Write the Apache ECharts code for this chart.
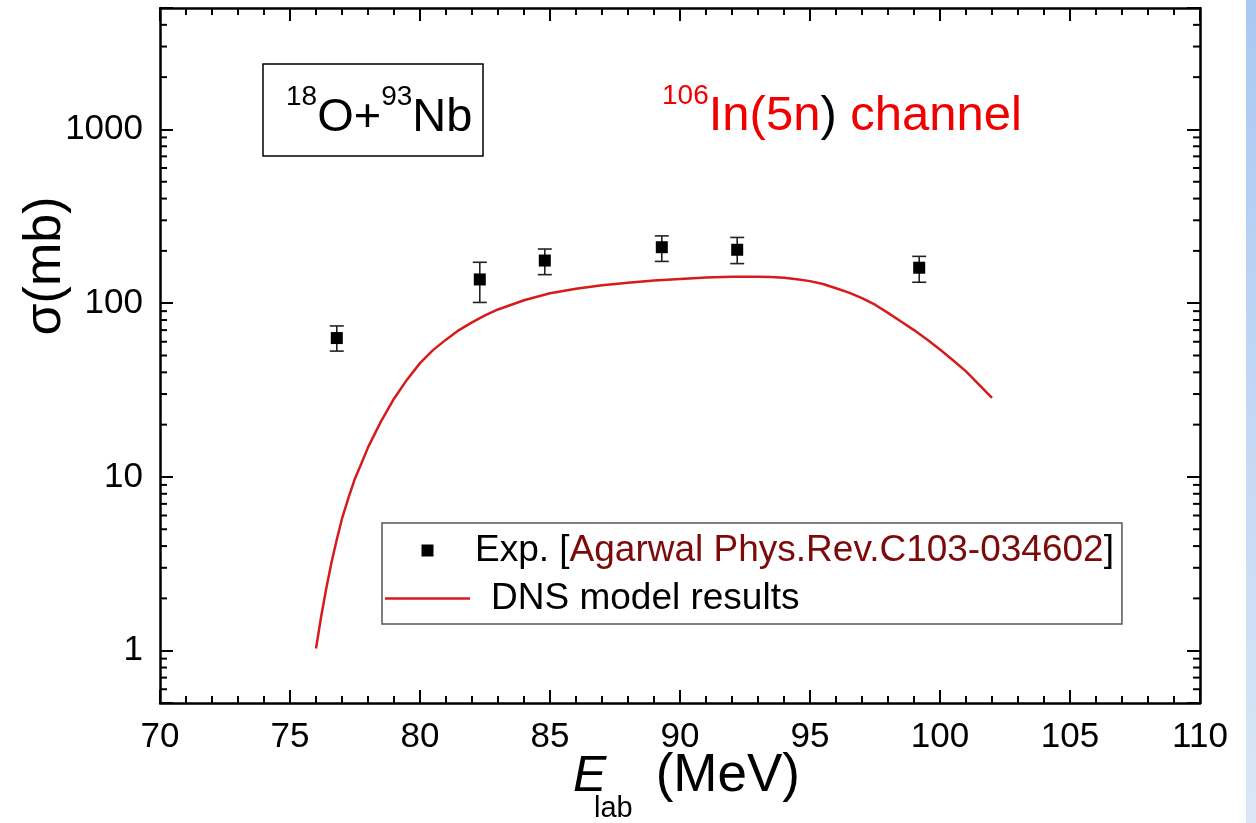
<!DOCTYPE html>
<html>
<head>
<meta charset="utf-8">
<script src="https://cdn.jsdelivr.net/npm/echarts@6/dist/echarts.min.js"></script>
<style>
  html, body { margin: 0; padding: 0; background: #fff; }
  #chart { width: 1256px; height: 823px; }
</style>
</head>
<body>
<div id="chart"></div>
<script>
const FONT = '"Liberation Sans", Arial, Helvetica, sans-serif';

// Measured cross sections (mb) with lower / upper error limits
const expEnergy = [76.8, 82.3, 84.8, 89.3, 92.2, 99.2];
const expSigma  = [63, 137, 176, 210, 203, 160];
const expLow    = [53, 101, 146, 174, 169, 132];
const expHigh   = [74, 172, 205, 244, 239, 186];

// DNS model excitation function
const dnsEnergy = [76.0, 76.2, 76.4, 76.6, 76.8, 77.0, 77.25, 77.5, 77.75, 78.0,
                   78.5, 79.0, 79.5, 80.0, 80.5, 81.0, 81.5, 82.0, 82.5, 83.0,
                   84.0, 85.0, 86.0, 87.0, 88.0, 89.0, 90.0, 91.0, 92.0, 93.0,
                   93.5, 94.0, 94.5, 95.0, 95.5, 96.0, 96.5, 97.0, 97.5, 98.0,
                   98.5, 99.0, 99.5, 100.0, 100.5, 101.0, 101.5, 102.0];
const dnsSigma  = [1.03, 1.58, 2.3, 3.24, 4.37, 5.75, 7.6, 9.8, 12.0, 14.8,
                   20.9, 28.2, 36.3, 45.2, 53.7, 61.7, 70, 77.6, 85, 92,
                   104, 114, 121, 127, 131, 135, 138, 140.5, 142, 142,
                   141.5, 140, 137.5, 134, 129, 122, 115, 107, 98, 88,
                   78.5, 70, 61.8, 54.2, 47, 40.5, 34, 28.5];

// Axis ranges and tick values
const xMin = 70, xMax = 110, xStep = 5;
const yMin = 0.5, yMax = 5000;
const yDecades = [1, 10, 100, 1000];
const yMinorTicks = [0.6, 0.7, 0.8, 0.9,
                     2, 3, 4, 5, 6, 7, 8, 9,
                     20, 30, 40, 50, 60, 70, 80, 90,
                     200, 300, 400, 500, 600, 700, 800, 900,
                     2000, 3000, 4000];

const expName = 'Exp. [Agarwal Phys.Rev.C103-034602]';
const dnsName = 'DNS model results';

const chart = echarts.init(document.getElementById('chart'), null, { renderer: 'canvas' });

const axisLine = { show: true, onZero: false, lineStyle: { color: '#000', width: 2.5 } };
const majorTick = { show: true, inside: true, length: 13, lineStyle: { color: '#000', width: 2 } };
const minorTickX = { show: true, splitNumber: 5, length: 7, lineStyle: { color: '#000', width: 2 } };

function decadeLabel(v) {
  const hit = yDecades.find(d => Math.abs(Math.log10(v) - Math.log10(d)) < 1e-6);
  return hit === undefined ? '' : String(hit);
}

const option = {
  animation: false,
  backgroundColor: '#fff',
  grid: { left: 160, right: 56, top: 8, bottom: 120 },
  xAxis: [
    {
      type: 'value', min: xMin, max: xMax, interval: xStep, position: 'bottom',
      axisLine, axisTick: majorTick, minorTick: minorTickX,
      splitLine: { show: false },
      axisLabel: { margin: 17, color: '#000', fontFamily: FONT, fontSize: 35 }
    },
    {
      type: 'value', min: xMin, max: xMax, interval: xStep, position: 'top',
      axisLine, axisTick: majorTick, minorTick: minorTickX,
      splitLine: { show: false },
      axisLabel: { show: false }
    }
  ],
  yAxis: [
    {
      type: 'log', logBase: 10, min: yMin, max: yMax, position: 'left',
      axisLine, axisTick: majorTick,
      splitLine: { show: false },
      axisLabel: { margin: 17, color: '#000', fontFamily: FONT, fontSize: 35, formatter: decadeLabel }
    },
    {
      type: 'log', logBase: 10, min: yMin, max: yMax, position: 'right',
      axisLine, axisTick: majorTick,
      splitLine: { show: false },
      axisLabel: { show: false }
    }
  ],
  legend: {
    left: 382, top: 523, orient: 'vertical',
    data: [
      { name: expName, icon: 'path://M0,0h10v10h-10z' },
      { name: dnsName, icon: 'path://M0,0h85v2.5h-85z' }
    ],
    itemWidth: 85, itemHeight: 12, itemGap: 11,
    borderColor: '#555', borderWidth: 1.5, borderRadius: 0,
    padding: [9, 8, 7, 3],
    selectedMode: false,
    formatter: name => name === expName
      ? '{k|Exp. [}{r|Agarwal Phys.Rev.C103-034602}{k|]}'
      : '{d|DNS model results}',
    textStyle: {
      fontFamily: FONT, fontSize: 37, color: '#000',
      rich: {
        k: { fontFamily: FONT, fontSize: 37, color: '#000', lineHeight: 38 },
        r: { fontFamily: FONT, fontSize: 37, color: '#7d0a0a', lineHeight: 38 },
        d: { fontFamily: FONT, fontSize: 37, color: '#000', lineHeight: 38, padding: [0, 0, 0, 16] }
      }
    }
  },
  graphic: [
    // reaction label box
    { type: 'rect', shape: { x: 263, y: 64, width: 220, height: 92 },
      style: { fill: '#fff', stroke: '#000', lineWidth: 1.5 }, z: 10 },
    { type: 'text', x: 286, y: 83, z: 11,
      style: {
        text: '{s|18}{m|O+}{s|93}{m|Nb}',
        fontFamily: FONT,
        rich: {
          s: { fontFamily: FONT, fontSize: 28, lineHeight: 28, verticalAlign: 'top', fill: '#000' },
          m: { fontFamily: FONT, fontSize: 47, lineHeight: 47, verticalAlign: 'top', padding: [12, 0, 0, 0], fill: '#000' }
        }
      } },
    // channel label
    { type: 'text', x: 662, y: 82, z: 11,
      style: {
        text: '{s|106}{m|In(5n}{k|)}{m| channel}',
        fontFamily: FONT,
        rich: {
          s: { fontFamily: FONT, fontSize: 28, lineHeight: 28, verticalAlign: 'top', fill: '#f00000' },
          m: { fontFamily: FONT, fontSize: 49, lineHeight: 49, verticalAlign: 'top', padding: [10, 0, 0, 0], fill: '#f00000' },
          k: { fontFamily: FONT, fontSize: 49, lineHeight: 49, verticalAlign: 'top', padding: [10, 0, 0, 0], fill: '#000' }
        }
      } },
    // y axis title
    { type: 'text', x: 46, y: 266, rotation: Math.PI / 2, z: 11,
      style: { text: 'σ(mb)', fontFamily: FONT, fontSize: 52, fill: '#000', align: 'center', verticalAlign: 'middle' } },
    // x axis title: E with subscript "lab", then unit
    { type: 'text', x: 573, y: 752, z: 11,
      style: { text: 'E', fontFamily: FONT, fontSize: 50, fontStyle: 'italic', fill: '#000', align: 'left', verticalAlign: 'top' } },
    { type: 'text', x: 594, y: 794, z: 11,
      style: { text: 'lab', fontFamily: FONT, fontSize: 29, fill: '#000', align: 'left', verticalAlign: 'top' } },
    { type: 'text', x: 800, y: 750, z: 11,
      style: { text: '(MeV)', fontFamily: FONT, fontSize: 53, fill: '#000', align: 'right', verticalAlign: 'top' } },
    // side band
    { type: 'rect', shape: { x: 1246, y: 0, width: 10, height: 823 }, z: 0,
      style: { fill: new echarts.graphic.LinearGradient(0, 0, 0, 1, [
        { offset: 0, color: '#a9c8f2' }, { offset: 1, color: '#dbe7f7' }
      ]) } }
  ],
  series: [
    {
      // minor ticks of the logarithmic axes (2..9 within each decade)
      type: 'custom', silent: true, z: 5, clip: false,
      data: yMinorTicks.map(v => [xMin, v]),
      encode: { x: 0, y: 1 },
      renderItem(params, api) {
        const v = api.value(1);
        const pl = api.coord([xMin, v]);
        const pr = api.coord([xMax, v]);
        return {
          type: 'group',
          children: [
            { type: 'line', shape: { x1: pl[0], y1: pl[1], x2: pl[0] + 7, y2: pl[1] }, style: { stroke: '#000', lineWidth: 2 } },
            { type: 'line', shape: { x1: pr[0], y1: pr[1], x2: pr[0] - 7, y2: pr[1] }, style: { stroke: '#000', lineWidth: 2 } }
          ]
        };
      }
    },
    {
      name: dnsName, type: 'line',
      data: dnsEnergy.map((e, i) => [e, dnsSigma[i]]),
      showSymbol: false, symbol: 'none',
      smooth: false,
      lineStyle: { color: '#d71a1a', width: 2.5, join: 'round' },
      itemStyle: { color: '#d71a1a' },
      z: 3
    },
    {
      // error bars
      type: 'custom', silent: true, z: 4,
      data: expEnergy.map((e, i) => [e, expLow[i], expHigh[i]]),
      encode: { x: 0, y: [1, 2] },
      renderItem(params, api) {
        const lo = api.coord([api.value(0), api.value(1)]);
        const hi = api.coord([api.value(0), api.value(2)]);
        const cap = 7;
        const st = { stroke: '#222', lineWidth: 1.6 };
        return {
          type: 'group',
          children: [
            { type: 'line', shape: { x1: lo[0], y1: lo[1], x2: hi[0], y2: hi[1] }, style: st },
            { type: 'line', shape: { x1: lo[0] - cap, y1: lo[1], x2: lo[0] + cap, y2: lo[1] }, style: st },
            { type: 'line', shape: { x1: hi[0] - cap, y1: hi[1], x2: hi[0] + cap, y2: hi[1] }, style: st }
          ]
        };
      }
    },
    {
      name: expName, type: 'scatter',
      data: expEnergy.map((e, i) => [e, expSigma[i]]),
      symbol: 'rect', symbolSize: 12,
      itemStyle: { color: '#000', opacity: 1 },
      z: 6
    }
  ]
};

chart.setOption(option);
</script>
</body>
</html>
